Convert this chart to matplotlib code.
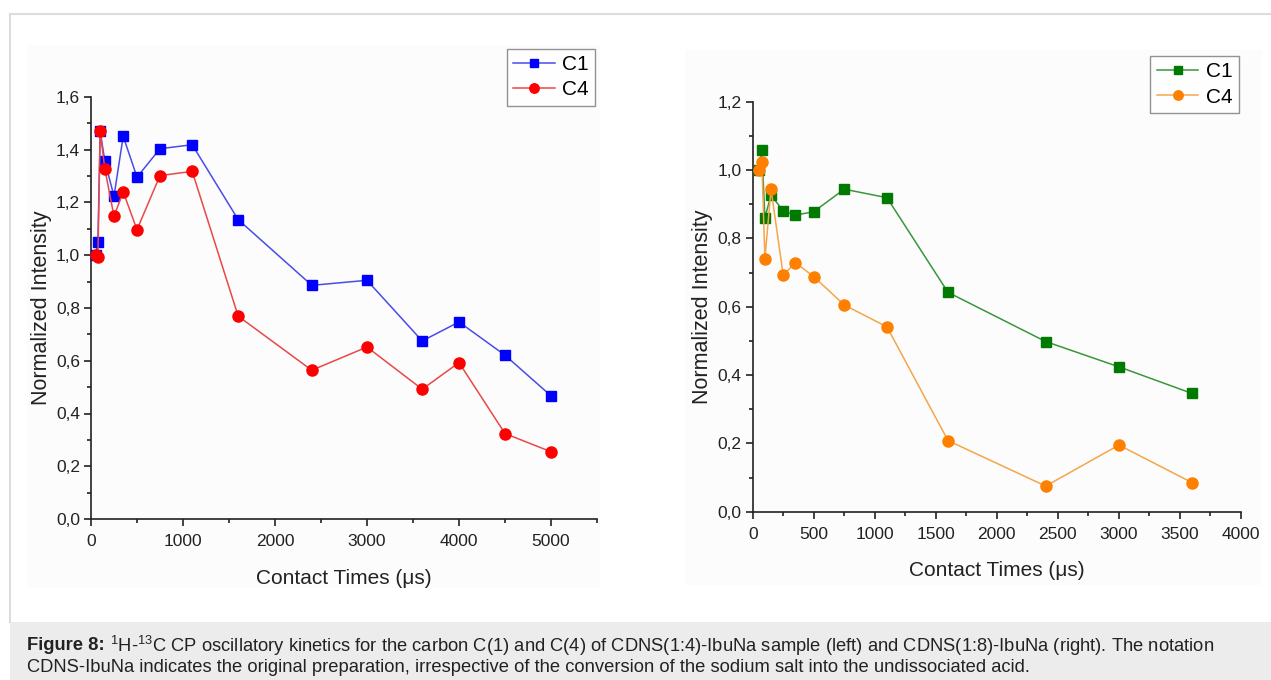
import numpy as np
import matplotlib
matplotlib.use('Agg')
import matplotlib.pyplot as plt
from matplotlib.ticker import MultipleLocator, FuncFormatter
from matplotlib.patches import Rectangle
from matplotlib.lines import Line2D

plt.rcParams['font.family'] = ['Liberation Sans', 'DejaVu Sans']
plt.rcParams['mathtext.fontset'] = 'custom'
plt.rcParams['mathtext.rm'] = 'Liberation Sans'

# left panel: CDNS(1:4)-IbuNa
t_left = [50, 75, 100, 150, 250, 350, 500, 750, 1100, 1600, 2400, 3000, 3600, 4000, 4500, 5000]
c1_left = [1.0, 1.05, 1.47, 1.357, 1.224, 1.451, 1.296, 1.404, 1.419, 1.135, 0.886, 0.905, 0.675, 0.747, 0.621, 0.467]
c4_left = [1.0, 0.994, 1.471, 1.328, 1.148, 1.240, 1.097, 1.302, 1.318, 0.769, 0.564, 0.652, 0.492, 0.593, 0.324, 0.255]

# right panel: CDNS(1:8)-IbuNa
t_right = [50, 75, 100, 150, 250, 350, 500, 750, 1100, 1600, 2400, 3000, 3600]
c1_right = [1.0, 1.06, 0.86, 0.927, 0.88, 0.868, 0.878, 0.944, 0.919, 0.642, 0.498, 0.424, 0.346]
c4_right = [1.0, 1.024, 0.741, 0.944, 0.692, 0.729, 0.688, 0.605, 0.541, 0.208, 0.075, 0.195, 0.085]

series_labels = ['C1', 'C4']
caption_bold = 'Figure 8:'
caption_line1 = ' $^{1}$H-$^{13}$C CP oscillatory kinetics for the carbon C(1) and C(4) of CDNS(1:4)-IbuNa sample (left) and CDNS(1:8)-IbuNa (right). The notation'
caption_line2 = 'CDNS-IbuNa indicates the original preparation, irrespective of the conversion of the sodium salt into the undissociated acid.'

W, H = 1271, 680
fig = plt.figure(figsize=(W / 100, H / 100), dpi=100)
fig.patch.set_facecolor('white')

def px(x0, y0, x1, y1):
    # pixel box (top-left origin) -> figure fraction rect
    return [x0 / W, 1 - y1 / H, (x1 - x0) / W, (y1 - y0) / H]

# page frame + caption box + faint panel backgrounds
fig.add_artist(Line2D([10 / W, 1], [1 - 14 / H, 1 - 14 / H], color='#dcdcdc', lw=1.5, transform=fig.transFigure))
fig.add_artist(Line2D([10 / W, 10 / W], [1 - 14 / H, 1 - 622 / H], color='#dcdcdc', lw=1.5, transform=fig.transFigure))
r = px(10, 622, W, H)
fig.add_artist(Rectangle((r[0], r[1]), r[2], r[3], transform=fig.transFigure, fc='#ececec', ec='none'))
for b in [px(27, 45, 600, 588), px(685, 50, 1262, 585)]:
    fig.add_artist(Rectangle((b[0], b[1]), b[2], b[3], transform=fig.transFigure, fc='#fcfcfc', ec='none', zorder=0))

comma = FuncFormatter(lambda v, p: ('%.1f' % v).replace('.', ','))


def style_axes(ax, xmax, xmaj, xmin, ymax):
    ax.set_facecolor('none')
    ax.spines['top'].set_visible(False)
    ax.spines['right'].set_visible(False)
    for s in ['left', 'bottom']:
        ax.spines[s].set_linewidth(1.2)
        ax.spines[s].set_color('#222222')
    ax.set_xlim(0, xmax)
    ax.set_ylim(0, ymax)
    ax.xaxis.set_major_locator(MultipleLocator(xmaj))
    ax.xaxis.set_minor_locator(MultipleLocator(xmin))
    ax.yaxis.set_major_locator(MultipleLocator(0.2))
    ax.yaxis.set_minor_locator(MultipleLocator(0.1))
    ax.yaxis.set_major_formatter(comma)
    ax.tick_params(which='major', direction='out', length=5, width=1.2, color='#222222', labelsize=12.5, labelcolor='#222222')
    ax.tick_params(which='minor', direction='out', length=3, width=1.2, color='#222222')
    ax.tick_params(axis='x', which='major', pad=6)
    ax.tick_params(axis='y', which='major', pad=3)
    ax.set_xlabel('Contact Times (μs)', fontsize=15, color='#222222', labelpad=14)
    ax.set_ylabel('Normalized Intensity', fontsize=15.5, color='#222222', labelpad=3)


def draw(ax, t, a, b, ca, cla, cb, clb):
    ax.plot(t, a, '-s', color=cla, mfc=ca, mec=ca, ms=7, lw=1.1, clip_on=False, label=series_labels[0], zorder=3)
    ax.plot(t, b, '-o', color=clb, mfc=cb, mec=cb, ms=8, lw=1.1, clip_on=False, label=series_labels[1], zorder=4)


def legend(ax, anchor):
    leg = ax.legend(loc='upper right', bbox_to_anchor=anchor, fontsize=15, frameon=True, fancybox=False,
                    edgecolor='#777777', handlelength=2.0, handletextpad=0.35, borderpad=0.3, labelspacing=0.3,
                    borderaxespad=0, markerscale=0.85)
    leg.get_frame().set_linewidth(1.0)


# left panel
ax1 = fig.add_axes(px(91, 97, 597, 519))
draw(ax1, t_left, c1_left, c4_left, '#0000ff', '#4b4bea', '#ff0000', '#e84848')
style_axes(ax1, 5500, 1000, 500, 1.6)
legend(ax1, (0.996, 1.114))

# right panel
ax2 = fig.add_axes(px(752.7, 101.7, 1241, 511.7))
draw(ax2, t_right, c1_right, c4_right, '#007a00', '#3a963a', '#ff8000', '#f5a54a')
style_axes(ax2, 4000, 500, 250, 1.2)
legend(ax2, (0.995, 1.111))

# caption
fs = 13.2
tb = fig.text(27 / W, 1 - 646 / H, caption_bold, fontsize=fs, fontweight='bold', va='center', ha='left', color='#222222')
fig.canvas.draw()
bb = tb.get_window_extent(fig.canvas.get_renderer())
fig.text(bb.x1 / W, 1 - 646 / H, caption_line1, fontsize=fs, va='center', ha='left', color='#222222')
fig.text(27 / W, 1 - 668 / H, caption_line2, fontsize=fs, va='center', ha='left', color='#222222')

fig.savefig('out.png', dpi=100)
